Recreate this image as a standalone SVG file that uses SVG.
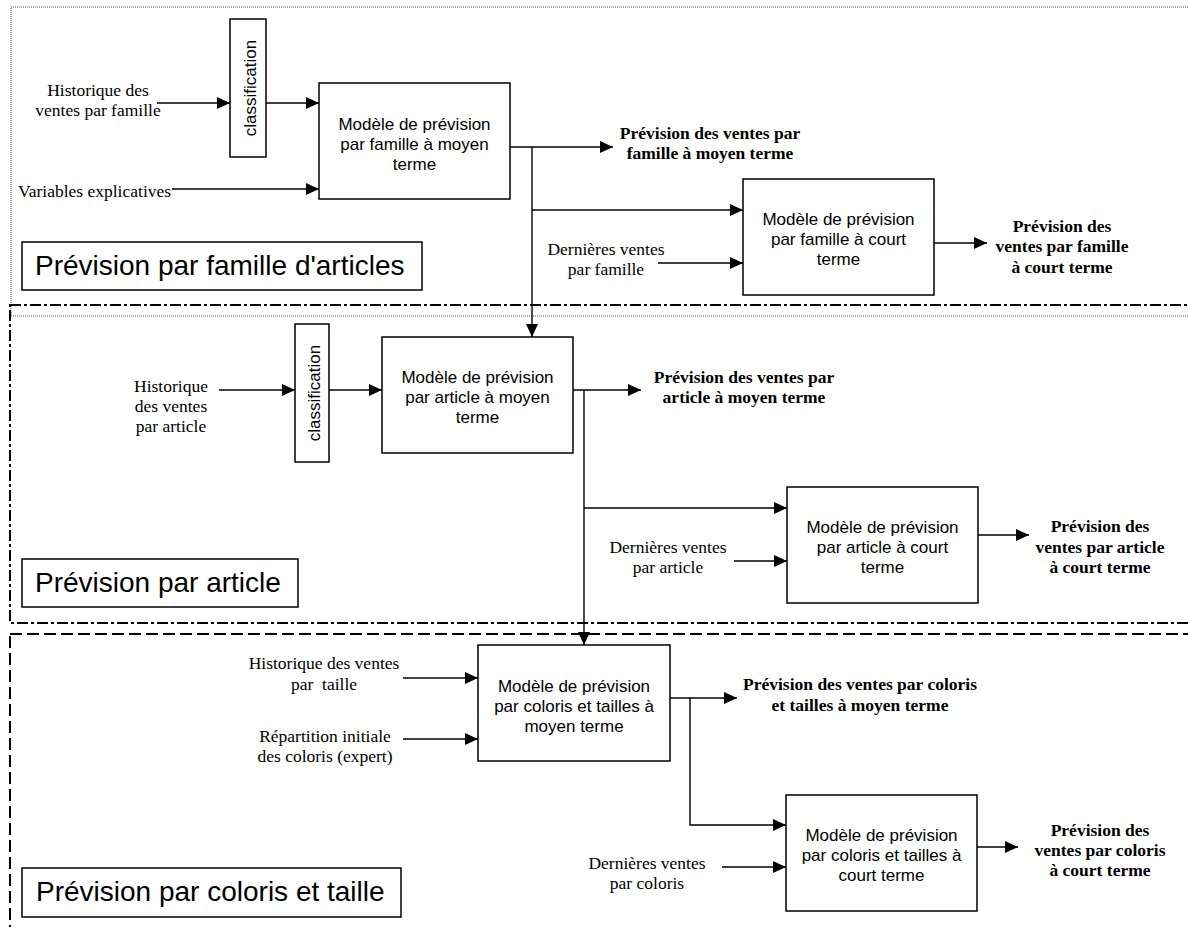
<svg xmlns="http://www.w3.org/2000/svg" width="1188" height="927" viewBox="0 0 1188 927">
  <defs>
    <marker id="ah" markerWidth="13" markerHeight="12" refX="13" refY="6" orient="auto" markerUnits="userSpaceOnUse">
      <path d="M0,0 L13,6 L0,12 z" fill="#000"/>
    </marker>
    <style>
      .frame-dot { fill: none; stroke: #555; stroke-width: 1; stroke-dasharray: 1 1; }
      .frame-dd { fill: none; stroke: #000; stroke-width: 2; stroke-dasharray: 11 3 3 3; }
      .frame-dash { fill: none; stroke: #000; stroke-width: 2; stroke-dasharray: 12 5; }
      .box { fill: #fff; stroke: #000; stroke-width: 1.5; }
      .edge { fill: none; stroke: #000; stroke-width: 1.4; }
      .arr { marker-end: url(#ah); }
      .mdl { font-family: "Liberation Sans", Arial, sans-serif; font-size: 17px; text-anchor: middle; fill: #000; }
      .ttl { font-family: "Liberation Sans", Arial, sans-serif; font-size: 28px; fill: #000; }
      .lbl { font-family: "Liberation Serif", "Times New Roman", serif; font-size: 17.5px; text-anchor: middle; fill: #000; }
      .lbl-l { font-family: "Liberation Serif", "Times New Roman", serif; font-size: 17.5px; fill: #000; }
      .out { font-family: "Liberation Serif", "Times New Roman", serif; font-size: 17.5px; font-weight: bold; text-anchor: middle; fill: #000; }
    </style>
  </defs>
  <rect width="1188" height="927" fill="#fff"/>

  <!-- section frames -->
  <g id="frames">
    <rect class="frame-dot" x="11" y="7" width="1200" height="309"/>
    <rect class="frame-dd" x="10" y="305" width="1200" height="318"/>
    <rect class="frame-dash" x="10" y="634" width="1200" height="320"/>
  </g>

  <!-- connectors -->
  <g id="connectors">
    <!-- family level -->
    <line class="edge arr" x1="157" y1="103" x2="230" y2="103"/>
    <line class="edge arr" x1="266" y1="103" x2="319" y2="103"/>
    <line class="edge arr" x1="172" y1="189" x2="319" y2="189"/>
    <line class="edge arr" x1="510" y1="147" x2="613" y2="147"/>
    <line class="edge arr" x1="532" y1="147" x2="532" y2="337"/>
    <line class="edge arr" x1="532" y1="210" x2="743" y2="210"/>
    <line class="edge arr" x1="658" y1="263" x2="743" y2="263"/>
    <line class="edge arr" x1="934" y1="243" x2="987" y2="243"/>
    <!-- article level -->
    <line class="edge arr" x1="219" y1="390" x2="295" y2="390"/>
    <line class="edge arr" x1="329" y1="390" x2="382" y2="390"/>
    <line class="edge arr" x1="573" y1="390" x2="641" y2="390"/>
    <line class="edge arr" x1="584" y1="390" x2="584" y2="645"/>
    <line class="edge arr" x1="584" y1="508" x2="787" y2="508"/>
    <line class="edge arr" x1="734" y1="561" x2="787" y2="561"/>
    <line class="edge arr" x1="978" y1="535" x2="1029" y2="535"/>
    <!-- colour / size level -->
    <line class="edge arr" x1="403" y1="678" x2="478" y2="678"/>
    <line class="edge arr" x1="403" y1="739" x2="478" y2="739"/>
    <line class="edge arr" x1="670" y1="698" x2="737" y2="698"/>
    <polyline class="edge arr" points="690,698 690,825 786,825"/>
    <line class="edge arr" x1="722" y1="867" x2="786" y2="867"/>
    <line class="edge arr" x1="977" y1="847" x2="1018" y2="847"/>
  </g>

  <!-- family level nodes -->
  <g id="classif-famille">
    <rect class="box" x="230" y="19" width="36" height="138"/>
    <text class="mdl" transform="translate(256,88) rotate(-90)">classification</text>
  </g>
  <g id="in-hist-famille">
    <text class="lbl" x="98" y="96">Historique des</text>
    <text class="lbl" x="98" y="116">ventes par famille</text>
  </g>
  <g id="in-variables">
    <text class="lbl-l" x="18" y="197">Variables explicatives</text>
  </g>
  <g id="modele-famille-moyen">
    <rect class="box" x="319" y="83" width="191" height="116"/>
    <text class="mdl" x="414.5" y="130">Modèle de prévision</text>
    <text class="mdl" x="414.5" y="150">par famille à moyen</text>
    <text class="mdl" x="414.5" y="170">terme</text>
  </g>
  <g id="out-famille-moyen">
    <text class="out" x="710" y="139">Prévision des ventes par</text>
    <text class="out" x="710" y="159">famille à moyen terme</text>
  </g>
  <g id="in-dern-famille">
    <text class="lbl" x="606" y="255">Dernières ventes</text>
    <text class="lbl" x="606" y="275">par famille</text>
  </g>
  <g id="modele-famille-court">
    <rect class="box" x="743" y="179" width="191" height="116"/>
    <text class="mdl" x="838.5" y="225">Modèle de prévision</text>
    <text class="mdl" x="838.5" y="245">par famille à court</text>
    <text class="mdl" x="838.5" y="265">terme</text>
  </g>
  <g id="out-famille-court">
    <text class="out" x="1062" y="232">Prévision des</text>
    <text class="out" x="1062" y="252">ventes par famille</text>
    <text class="out" x="1062" y="273">à court terme</text>
  </g>
  <g id="titre-famille">
    <rect class="box" x="22" y="242" width="400" height="48"/>
    <text class="ttl" x="35" y="275">Prévision par famille d'articles</text>
  </g>

  <!-- article level nodes -->
  <g id="classif-article">
    <rect class="box" x="295" y="324" width="34" height="138"/>
    <text class="mdl" transform="translate(320,393) rotate(-90)">classification</text>
  </g>
  <g id="in-hist-article">
    <text class="lbl" x="171" y="392">Historique</text>
    <text class="lbl" x="171" y="412">des ventes</text>
    <text class="lbl" x="171" y="432">par article</text>
  </g>
  <g id="modele-article-moyen">
    <rect class="box" x="382" y="337" width="191" height="116"/>
    <text class="mdl" x="477.5" y="383">Modèle de prévision</text>
    <text class="mdl" x="477.5" y="403">par article à moyen</text>
    <text class="mdl" x="477.5" y="423">terme</text>
  </g>
  <g id="out-article-moyen">
    <text class="out" x="744" y="383">Prévision des ventes par</text>
    <text class="out" x="744" y="403">article à moyen terme</text>
  </g>
  <g id="in-dern-article">
    <text class="lbl" x="668" y="553">Dernières ventes</text>
    <text class="lbl" x="668" y="573">par article</text>
  </g>
  <g id="modele-article-court">
    <rect class="box" x="787" y="487" width="191" height="116"/>
    <text class="mdl" x="882.5" y="533">Modèle de prévision</text>
    <text class="mdl" x="882.5" y="553">par article à court</text>
    <text class="mdl" x="882.5" y="573">terme</text>
  </g>
  <g id="out-article-court">
    <text class="out" x="1100" y="532">Prévision des</text>
    <text class="out" x="1100" y="553">ventes par article</text>
    <text class="out" x="1100" y="573">à court terme</text>
  </g>
  <g id="titre-article">
    <rect class="box" x="22" y="559" width="276" height="48"/>
    <text class="ttl" x="35" y="592">Prévision par article</text>
  </g>

  <!-- colour and size level nodes -->
  <g id="in-hist-taille">
    <text class="lbl" x="324" y="669">Historique des ventes</text>
    <text class="lbl" x="324" y="690" xml:space="preserve">par  taille</text>
  </g>
  <g id="in-repartition">
    <text class="lbl" x="325" y="742">Répartition initiale</text>
    <text class="lbl" x="325" y="762">des coloris (expert)</text>
  </g>
  <g id="modele-coloris-moyen">
    <rect class="box" x="478" y="645" width="192" height="116"/>
    <text class="mdl" x="574" y="692">Modèle de prévision</text>
    <text class="mdl" x="574" y="712">par coloris et tailles à</text>
    <text class="mdl" x="574" y="732">moyen terme</text>
  </g>
  <g id="out-coloris-moyen">
    <text class="out" x="860" y="690">Prévision des ventes par coloris</text>
    <text class="out" x="860" y="711">et tailles à moyen terme</text>
  </g>
  <g id="in-dern-coloris">
    <text class="lbl" x="647" y="869">Dernières ventes</text>
    <text class="lbl" x="647" y="889">par coloris</text>
  </g>
  <g id="modele-coloris-court">
    <rect class="box" x="786" y="795" width="191" height="116"/>
    <text class="mdl" x="881.5" y="841">Modèle de prévision</text>
    <text class="mdl" x="881.5" y="861">par coloris et tailles à</text>
    <text class="mdl" x="881.5" y="881">court terme</text>
  </g>
  <g id="out-coloris-court">
    <text class="out" x="1100" y="836">Prévision des</text>
    <text class="out" x="1100" y="856">ventes par coloris</text>
    <text class="out" x="1100" y="876">à court terme</text>
  </g>
  <g id="titre-coloris">
    <rect class="box" x="22" y="868" width="379" height="49"/>
    <text class="ttl" x="36" y="901">Prévision par coloris et taille</text>
  </g>
</svg>
